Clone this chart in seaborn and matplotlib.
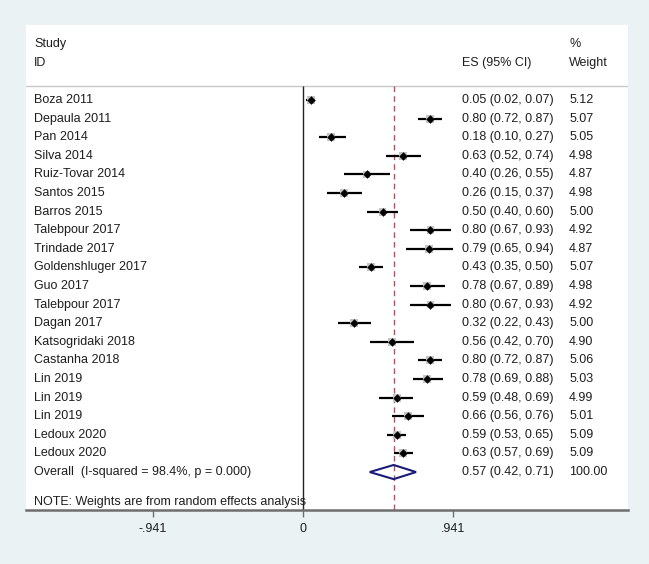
import pandas as pd
import matplotlib
matplotlib.use("Agg")
import matplotlib.pyplot as plt
import seaborn as sns

# Данные forest plot
studies = ["Boza 2011", "Depaula 2011", "Pan 2014", "Silva 2014", "Ruiz-Tovar 2014",
           "Santos 2015", "Barros 2015", "Talebpour 2017", "Trindade 2017",
           "Goldenshluger 2017", "Guo 2017", "Talebpour 2017", "Dagan 2017",
           "Katsogridaki 2018", "Castanha 2018", "Lin 2019", "Lin 2019", "Lin 2019",
           "Ledoux 2020", "Ledoux 2020"]
es = [0.05, 0.80, 0.18, 0.63, 0.40, 0.26, 0.50, 0.80, 0.79, 0.43,
      0.78, 0.80, 0.32, 0.56, 0.80, 0.78, 0.59, 0.66, 0.59, 0.63]
ci_low = [0.02, 0.72, 0.10, 0.52, 0.26, 0.15, 0.40, 0.67, 0.65, 0.35,
          0.67, 0.67, 0.22, 0.42, 0.72, 0.69, 0.48, 0.56, 0.53, 0.57]
ci_high = [0.07, 0.87, 0.27, 0.74, 0.55, 0.37, 0.60, 0.93, 0.94, 0.50,
           0.89, 0.93, 0.43, 0.70, 0.87, 0.88, 0.69, 0.76, 0.65, 0.69]
weights = [5.12, 5.07, 5.05, 4.98, 4.87, 4.98, 5.00, 4.92, 4.87, 5.07,
           4.98, 4.92, 5.00, 4.90, 5.06, 5.03, 4.99, 5.01, 5.09, 5.09]
overall_label = "Overall  (I-squared = 98.4%, p = 0.000)"
overall_es, overall_low, overall_high, overall_weight = 0.57, 0.42, 0.71, 100.00
tick_values = [-0.941, 0, 0.941]
tick_labels = ["-.941", "0", ".941"]

df = pd.DataFrame({"study": studies, "es": es, "lo": ci_low, "hi": ci_high, "w": weights})
df["row"] = range(len(df))
overall_row = len(df)

sns.set_style("white")
plt.rcParams["font.family"] = ["Liberation Sans", "DejaVu Sans"]
txt_color = "#1e1e1e"
fs = 9

fig = plt.figure(figsize=(6.49, 5.64), dpi=100, facecolor="#eaf2f3")
ax = fig.add_axes([26 / 649, 54 / 564, 602 / 649, 485 / 564])
ax.set_facecolor("white")

ax.set_xlim(-1.7337, 2.0382)
ax.set_ylim(22.04, -4.03)

header_row = -0.75
# линия под заголовком
ax.axhline(header_row, color="#c8c8c8", lw=1)
# линия нуля и общий эффект
ax.vlines(0, header_row, 22.04, color="#222222", lw=1)
ax.vlines(overall_es, header_row, 22.04, color="#b5505e", lw=1, linestyles=(0, (4, 3)))

# доверительные интервалы
ax.hlines(df["row"], df["lo"], df["hi"], color="black", lw=1.6, zorder=3)
sns.scatterplot(data=df, x="es", y="row", size="w", sizes=(30, 34), marker="s",
                color="#c4c4c4", edgecolor="none", legend=False, ax=ax, zorder=4)
sns.scatterplot(data=df, x="es", y="row", marker="D", s=16, color="black",
                edgecolor="black", legend=False, ax=ax, zorder=5)

# ромб общего эффекта
ax.fill([overall_low, overall_es, overall_high, overall_es, overall_low],
        [overall_row, overall_row - 0.38, overall_row, overall_row + 0.38, overall_row],
        facecolor="none", edgecolor="#1a1a7a", lw=1.5, zorder=5)

# текстовые колонки
x_lab, x_es, x_w = -1.684, 0.996, 1.669
ax.text(x_lab, -3, "Study", fontsize=fs, color=txt_color, va="center")
ax.text(x_lab, -2, "ID", fontsize=fs, color=txt_color, va="center")
ax.text(x_es, -2, "ES (95% CI)", fontsize=fs, color=txt_color, va="center")
ax.text(x_w, -3, "%", fontsize=fs, color=txt_color, va="center")
ax.text(x_w, -2, "Weight", fontsize=fs, color=txt_color, va="center")

for _, r in df.iterrows():
    ax.text(x_lab, r["row"], r["study"], fontsize=fs, color=txt_color, va="center")
    ax.text(x_es, r["row"], f"{r['es']:.2f} ({r['lo']:.2f}, {r['hi']:.2f})",
            fontsize=fs, color=txt_color, va="center")
    ax.text(x_w, r["row"], f"{r['w']:.2f}", fontsize=fs, color=txt_color, va="center")

ax.text(x_lab, overall_row, overall_label, fontsize=fs, color=txt_color, va="center")
ax.text(x_es, overall_row, f"{overall_es:.2f} ({overall_low:.2f}, {overall_high:.2f})",
        fontsize=fs, color=txt_color, va="center")
ax.text(x_w, overall_row, f"{overall_weight:.2f}", fontsize=fs, color=txt_color, va="center")
ax.text(x_lab, 21.6, "NOTE: Weights are from random effects analysis", fontsize=fs,
        color=txt_color, va="center")

# оси
for s in ["top", "left", "right"]:
    ax.spines[s].set_visible(False)
ax.spines["bottom"].set_color("#6e6e6e")
ax.spines["bottom"].set_linewidth(1.8)
ax.set_xticks(tick_values)
ax.set_xticklabels(tick_labels)
ax.set_yticks([])
ax.tick_params(axis="x", direction="out", length=5, width=1, color="#6e6e6e",
               labelsize=fs, labelcolor=txt_color, pad=4, bottom=True)
ax.set_xlabel("")
ax.set_ylabel("")

fig.savefig("out.png", dpi=100, facecolor=fig.get_facecolor())
plt.close(fig)
